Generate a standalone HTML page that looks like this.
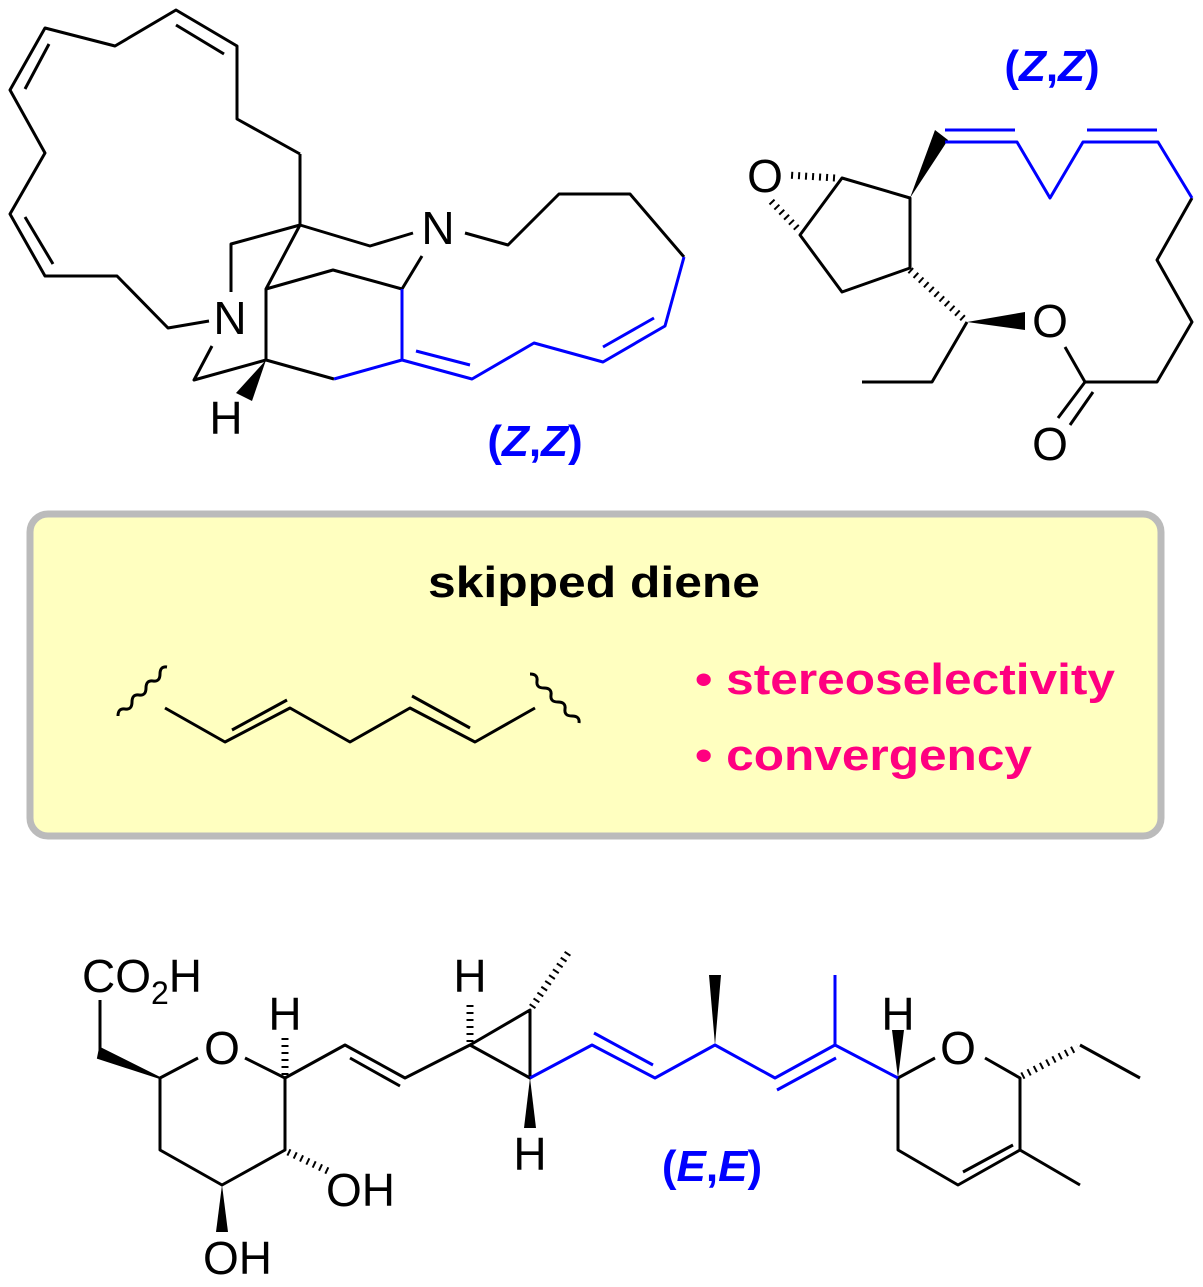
<!DOCTYPE html>
<html><head><meta charset="utf-8"><style>
html,body{margin:0;padding:0;background:#fff;}
svg{display:block;}
text{font-family:"Liberation Sans",Arial,sans-serif;}
</style></head><body>
<svg width="1203" height="1287" viewBox="0 0 1203 1287" xmlns="http://www.w3.org/2000/svg">
<g stroke="#000" stroke-width="3" fill="none" stroke-linejoin="round">
<polyline points="300,154 237,119 237,46 176,10 115,46 45,28 10,90 45,153 10,214 45,276 117,276 168,328 209,321"/>
<line x1="176" y1="25" x2="224" y2="54"/>
<line x1="49" y1="44" x2="25" y2="89"/>
<line x1="25" y1="217" x2="53" y2="264"/>
<polyline points="300,154 300,225 231,244 231,292"/>
<polyline points="300,225 370,246 413,233"/>
<polyline points="465,233 508,245 559,194 630,194 684,257"/>
<polyline points="300,225 266,289 333,270 402,289 422,256"/>
<line x1="266" y1="289" x2="266" y2="360"/>
<polyline points="212,346 194,380 266,360 334,379"/>
</g>
<g stroke="#0000ff" stroke-width="3" fill="none" stroke-linejoin="round">
<polyline points="684,257 665,326 603,362 534,343 472,379 402,360 334,379"/>
<line x1="654" y1="318" x2="603" y2="347"/>
<line x1="416" y1="351" x2="470" y2="365"/>
<line x1="402" y1="360" x2="402" y2="289"/>
</g>
<polygon points="266,360 236,393 252,401" fill="#000"/>
<g font-size="46" fill="#000">
<text x="230" y="334" text-anchor="middle">N</text>
<text x="438" y="244" text-anchor="middle">N</text>
<text x="226" y="434" text-anchor="middle">H</text>
</g>
<text x="535" y="456" text-anchor="middle" font-size="44" font-weight="bold" fill="#0000ff">(<tspan font-style="italic">Z</tspan>,<tspan font-style="italic">Z</tspan>)</text>

<g stroke="#000" stroke-width="3" fill="none" stroke-linejoin="round">
<polygon points="842,178 910,198 910,268 842,292 800,235"/>
<polyline points="1192,198 1157,260 1192,322 1157,382 1085,382 1065,347"/>
<line x1="1085" y1="382" x2="1058" y2="418"/>
<line x1="1093" y1="392" x2="1070" y2="425"/>
<polyline points="967,322 932,382 862,382"/>
</g>
<g stroke="#000" stroke-width="7" stroke-dasharray="2,5" fill="none">
<line x1="910" y1="270" x2="965" y2="320"/>
<line x1="835" y1="178" x2="788" y2="175"/>
<line x1="797" y1="228" x2="770" y2="200"/>
</g>
<polygon points="910,198 935,130 948,140" fill="#000"/>
<polygon points="967,322 1025,312 1025,330" fill="#000"/>
<g stroke="#0000ff" stroke-width="3" fill="none" stroke-linejoin="round">
<polyline points="945,142 1017,142 1050,198 1083,142 1158,142 1192,198"/>
<line x1="945" y1="130" x2="1015" y2="130"/>
<line x1="1087" y1="130" x2="1157" y2="130"/>
</g>
<g font-size="46" fill="#000">
<text x="765" y="192" text-anchor="middle">O</text>
<text x="1050" y="337" text-anchor="middle">O</text>
<text x="1050" y="460" text-anchor="middle">O</text>
</g>
<text x="1052" y="81" text-anchor="middle" font-size="44" font-weight="bold" fill="#0000ff">(<tspan font-style="italic">Z</tspan>,<tspan font-style="italic">Z</tspan>)</text>

<rect x="30" y="514" width="1131" height="322" rx="18" fill="#ffffc0" stroke="#bbbbbb" stroke-width="7"/>
<text x="428" y="597" textLength="332" lengthAdjust="spacingAndGlyphs" font-size="44" font-weight="bold" fill="#000">skipped diene</text>
<g stroke="#000" stroke-width="3" fill="none" stroke-linejoin="round">
<polyline points="165,708 225,742 290,708 350,742 410,708 475,742 535,708"/>
<line x1="232" y1="730" x2="287" y2="700"/>
<line x1="412" y1="696" x2="470" y2="728"/>
<path d="M118,716 q0,-8 7,-7 t7,-7 t7,-7 t7,-7 t7,-7 t7,-7 t7,-7"/>
<path d="M530,674 q8,0 7,7 t7,7 t7,7 t7,7 t7,7 t7,7 t7,7"/>
</g>
<g font-size="44" font-weight="bold" fill="#ff0080">
<text x="695" y="694" textLength="420" lengthAdjust="spacingAndGlyphs">• stereoselectivity</text>
<text x="695" y="770" textLength="337" lengthAdjust="spacingAndGlyphs">• convergency</text>
</g>

<g stroke="#000" stroke-width="3" fill="none" stroke-linejoin="round">
<line x1="100" y1="1000" x2="100" y2="1050"/>
<polyline points="198,1058 160,1078 160,1150 222,1185 285,1150 285,1078 245,1058"/>
<polyline points="285,1078 345,1045 405,1078 470,1045 530,1078 530,1010 470,1045"/>
<line x1="350" y1="1058" x2="400" y2="1086"/>
<polyline points="898,1078 898,1150 958,1185 1020,1150 1020,1078 985,1058"/>
<line x1="898" y1="1078" x2="935" y2="1058"/>
<line x1="963" y1="1172" x2="1013" y2="1145"/>
<line x1="1020" y1="1150" x2="1080" y2="1185"/>
<polyline points="1080,1045 1140,1078"/>
</g>
<g stroke="#000" stroke-width="7" stroke-dasharray="2,5" fill="none">
<line x1="285" y1="1075" x2="285" y2="1035"/>
<line x1="470" y1="1042" x2="470" y2="1000"/>
<line x1="532" y1="1007" x2="570" y2="950"/>
<line x1="1022" y1="1076" x2="1078" y2="1047"/>
<line x1="288" y1="1152" x2="330" y2="1172"/>
</g>
<polygon points="100,1048 160,1078 98,1058" fill="#000" stroke="#000" stroke-width="2"/>
<polygon points="222,1185 216,1232 228,1232" fill="#000"/>
<polygon points="530,1078 524,1128 536,1128" fill="#000"/>
<polygon points="715,1045 709,975 721,975" fill="#000"/>
<polygon points="898,1078 892,1030 904,1030" fill="#000"/>
<g stroke="#0000ff" stroke-width="3" fill="none" stroke-linejoin="round">
<polyline points="530,1078 592,1045 655,1078 715,1045 775,1078 835,1045 898,1078"/>
<line x1="594" y1="1033" x2="653" y2="1065"/>
<line x1="777" y1="1090" x2="836" y2="1058"/>
<line x1="835" y1="1045" x2="835" y2="975"/>
</g>
<g font-size="46" fill="#000">
<text x="82" y="992">CO<tspan font-size="32" dy="12">2</tspan><tspan dy="-12">H</tspan></text>
<text x="222" y="1064" text-anchor="middle">O</text>
<text x="285" y="1030" text-anchor="middle">H</text>
<text x="470" y="992" text-anchor="middle">H</text>
<text x="530" y="1170" text-anchor="middle">H</text>
<text x="898" y="1030" text-anchor="middle">H</text>
<text x="958" y="1064" text-anchor="middle">O</text>
<text x="326" y="1206">OH</text>
<text x="203" y="1274">OH</text>
</g>
<text x="712" y="1181" text-anchor="middle" font-size="44" font-weight="bold" fill="#0000ff">(<tspan font-style="italic">E</tspan>,<tspan font-style="italic">E</tspan>)</text>
</svg>
</body></html>
